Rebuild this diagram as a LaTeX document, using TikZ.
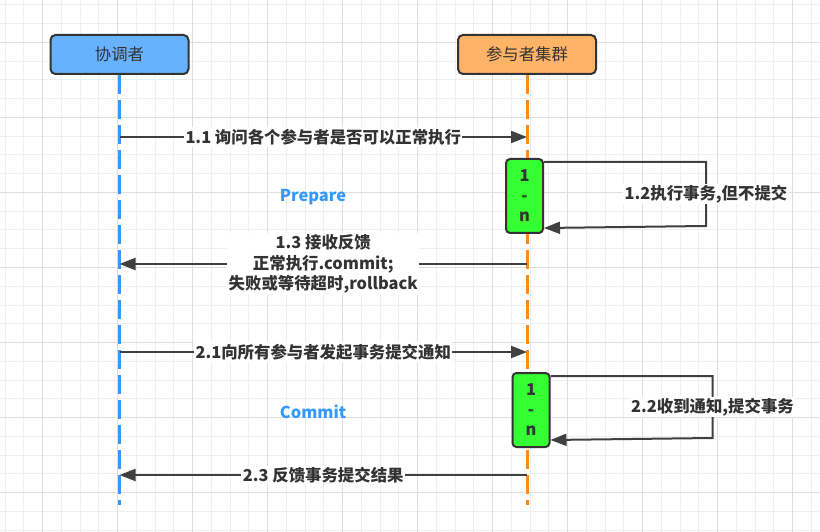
\documentclass[tikz,border=0pt]{standalone}
\usepackage{fontspec}
\setmainfont{Noto Sans CJK SC}
\usetikzlibrary{arrows.meta}

\definecolor{bleuboite}{HTML}{66B2FF}
\definecolor{orangeboite}{HTML}{FFB366}
\definecolor{bleuvie}{HTML}{3399FF}
\definecolor{orangevie}{HTML}{FF8C1A}
\definecolor{vertactif}{HTML}{33FF33}
\definecolor{trait}{HTML}{404040}
\definecolor{texte}{HTML}{333333}
\definecolor{grillefine}{HTML}{EFEFEF}
\definecolor{grillegrosse}{HTML}{DEDEDE}

\begin{document}
\begin{tikzpicture}[x=1pt,y=-1pt]

\tikzset{acteur/.style={draw=texte,line width=2pt,rounded corners=5pt,minimum width=138pt,minimum height=39pt,text=texte,font=\fontsize{16.4}{20}\selectfont}, %boites du haut
	vie/.style={line width=3pt,dash pattern=on 19pt off 6pt},
	msg/.style={draw=trait,line width=2pt,-{Triangle[length=16pt,width=12pt]}},
	etiquette/.style={fill=white,inner sep=1.5pt,text=texte,align=center,font=\fontsize{16.4}{20.5}\selectfont\bfseries},
	activ/.style={draw=texte,line width=2pt,rounded corners=4pt,fill=vertactif,minimum width=37pt,minimum height=74pt,align=center,text=texte,font=\fontsize{16.4}{20}\selectfont\bfseries},
	phase/.style={text=bleuvie,font=\fontsize{16.4}{20}\selectfont\bfseries}}

\useasboundingbox (0,0) rectangle (820,532);
\fill[white] (0,0) rectangle (820,532);

%grille
\foreach \i in {0,...,43} \draw[grillefine,line width=1pt] (5+18.75*\i,0) -- ++(0,532);
\foreach \i in {0,...,28} \draw[grillefine,line width=1pt] (0,5+18.75*\i) -- ++(820,0);
\foreach \i in {0,...,10} \draw[grillegrosse,line width=1pt] (42.7+75*\i,0) -- ++(0,532);
\foreach \i in {0,...,6} \draw[grillegrosse,line width=1pt] (0,42.7+75*\i) -- ++(820,0);

%acteurs
\node[acteur,fill=bleuboite] (coord) at (119.5,54.5) {协调者};
\node[acteur,fill=orangeboite] (part) at (527,54.5) {参与者集群};

\coordinate (coordbas) at (119.5,505);
\coordinate (partbas) at (527,505);

%lignes de vie
\draw[vie,bleuvie] (coord.south) -- (coordbas);
\draw[vie,orangevie] (part.south) -- (partbas);

%----------phase 1------------
\coordinate (c11) at (119.5,137);
\coordinate (p11) at (527,137);
\draw[msg] (c11) -- node[etiquette] {1.1 询问各个参与者是否可以正常执行} (p11);

\node[activ] (act1) at (524.5,196) {1\\-\\n};
\draw[msg] ([yshift=-4pt]act1.north east) -- ++(162,0) -- ++(0,64) node[midway,etiquette] {1.2执行事务,但不提交} -- ([yshift=6pt]act1.south east);

\node[phase] (prep) at (313,197) {Prepare};

\coordinate (p13) at (527,264);
\coordinate (c13) at (119.5,264);
\draw[msg] (p13) -- node[etiquette] {1.3\ 接收反馈\\正常执行.commit;\\失败或等待超时,rollback} (c13);

%----------phase 2------------
\coordinate (c21) at (119.5,352);
\coordinate (p21) at (527,352);
\draw[msg] (c21) -- node[etiquette] {2.1向所有参与者发起事务提交通知} (p21);

\node[activ] (act2) at (531,410) {1\\-\\n};
\draw[msg] ([yshift=-4pt]act2.north east) -- ++(162,0) -- ++(0,62) node[midway,etiquette] {2.2收到通知,提交事务} -- ([yshift=8pt]act2.south east);

\node[phase] (comm) at (313,412) {Commit};

\coordinate (p23) at (527,475);
\coordinate (c23) at (119.5,475);
\draw[msg] (p23) -- node[etiquette] {2.3 反馈事务提交结果} (c23);

\end{tikzpicture}
\end{document}
